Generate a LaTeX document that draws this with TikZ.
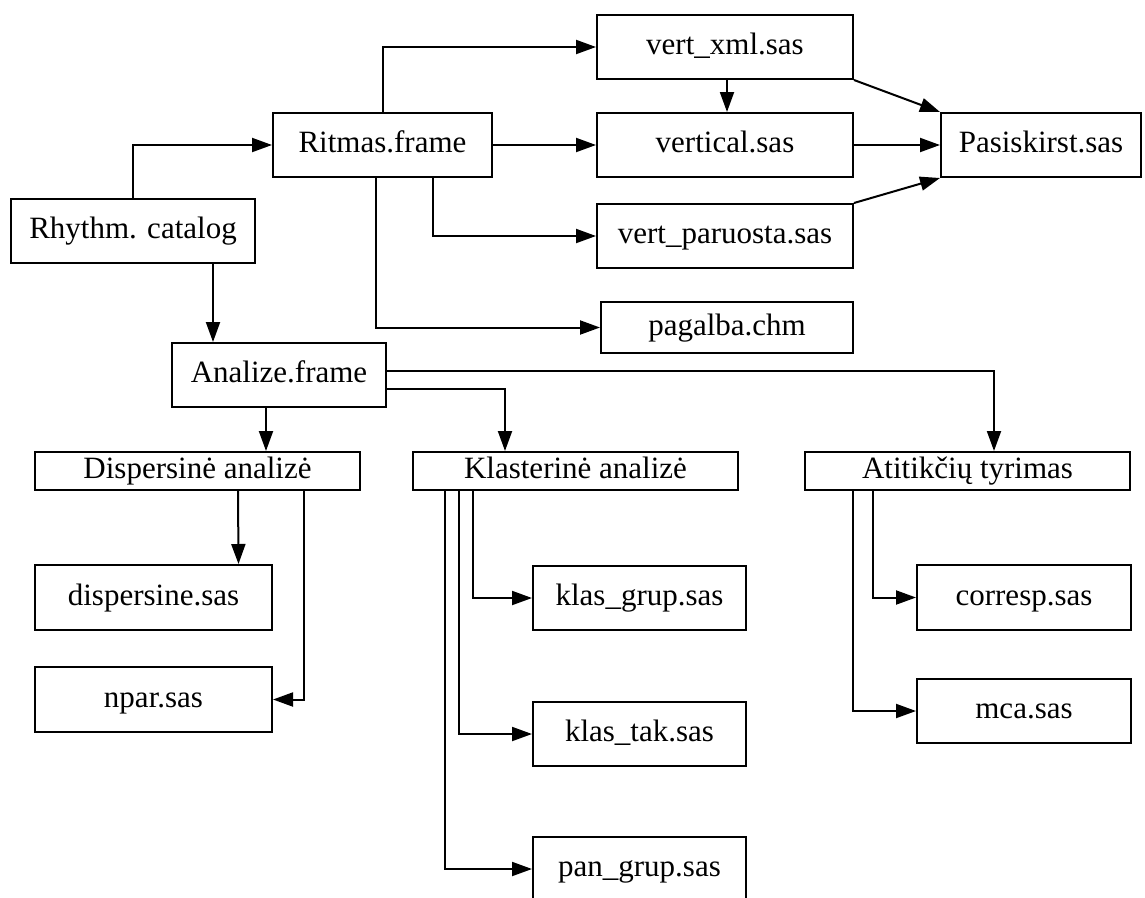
\documentclass[tikz,border=0pt]{standalone}
\usepackage{fontspec}
\setmainfont{Liberation Serif}
\usepackage{tikz}
\usetikzlibrary{arrows.meta, calc, positioning}

\begin{document}
\begin{tikzpicture}[x=1pt, y=-1pt,
                every node/.style={draw, line width=2pt, inner sep=0pt, align=center, minimum height=64pt,
                                   text height=22pt, text depth=7pt, font=\fontsize{31}{37}\selectfont},
                arr/.style={-{Triangle[length=20pt, width=14pt]}, line width=2pt}]
                \useasboundingbox (0,0) rectangle (1145,897);
                % top part
                \node (rhythm)   [minimum width=244pt] at (133,231)     {Rhythm. catalog};
                \node (ritmas)   [minimum width=219pt] at (382.5,145)   {Ritmas.frame};
                \node (vertxml)  [minimum width=256pt] at (725,47)      {vert\_xml.sas};
                \node (vertical) [minimum width=256pt] at (725,145)     {vertical.sas};
                \node (vertpar)  [minimum width=256pt] at (725,236)     {vert\_paruosta.sas};
                \node (pagalba)  [minimum width=252pt, minimum height=51pt] at (727,327.5) {pagalba.chm};
                \node (pasisk)   [minimum width=200pt] at (1041,145)    {Pasiskirst.sas};
                % analysis part
                \node (analize)  [minimum width=214pt] at (279,375)     {Analize.frame};
                \node (disp)     [minimum width=325pt, minimum height=38pt] at (197.5,471) {Dispersinė analizė};
                \node (klast)    [minimum width=325pt, minimum height=38pt] at (575.5,471) {Klasterinė analizė};
                \node (atit)     [minimum width=325pt, minimum height=38pt] at (967.5,471) {Atitikčių tyrimas};
                \node (dispsas)  [minimum width=237pt, minimum height=65pt] at (153.5,597.5) {dispersine.sas};
                \node (npar)     [minimum width=237pt, minimum height=65pt] at (153.5,699.5) {npar.sas};
                \node (klasgrup) [minimum width=213pt] at (639.5,598)   {klas\_grup.sas};
                \node (klastak)  [minimum width=213pt] at (639.5,734)   {klas\_tak.sas};
                \node (pangrup)  [minimum width=213pt] at (639.5,869)   {pan\_grup.sas};
                \node (corresp)  [minimum width=214pt, minimum height=65pt] at (1024,597.5) {corresp.sas};
                \node (mca)      [minimum width=214pt] at (1024,711)    {mca.sas};

                \draw[arr] (rhythm.north) |- (ritmas.west);
                \draw[arr] (ritmas.north) |- (vertxml.west);
                \draw[arr] (ritmas.east) -- (vertical.west);
                \draw[arr] ([xshift=50.5pt]ritmas.south) |- (vertpar.west);
                \draw[arr] ([xshift=-6.5pt]ritmas.south) |- (pagalba.west);
                \draw[arr] ([xshift=2pt]vertxml.south) -- ([xshift=2pt]vertical.north);
                \draw[arr] (vertxml.south east) -- (pasisk.north west);
                \draw[arr] (vertical.east) -- (pasisk.west);
                \draw[arr] (vertpar.north east) -- (pasisk.south west);

                \draw[arr] ([xshift=80pt]rhythm.south) -- ([xshift=-66pt]analize.north);
                \draw[arr] ([xshift=-13pt]analize.south) -- ([xshift=68.5pt]disp.north);
                \draw[arr] ([yshift=-14pt]analize.east) -| ([xshift=-70.5pt]klast.north);
                \draw[arr] ([yshift=4pt]analize.east) -| ([xshift=26.5pt]atit.north);

                \draw[arr] ([xshift=40.5pt]disp.south) -- ([xshift=85pt]dispsas.north);
                \draw[arr] ([xshift=106.5pt]disp.south) |- (npar.east);
                \draw[arr] ([xshift=-102.5pt]klast.south) |- (klasgrup.west);
                \draw[arr] ([xshift=-116.5pt]klast.south) |- (klastak.west);
                \draw[arr] ([xshift=-130.5pt]klast.south) |- (pangrup.west);
                \draw[arr] ([xshift=-94.5pt]atit.south) |- (corresp.west);
                \draw[arr] ([xshift=-114.5pt]atit.south) |- (mca.west);
            \end{tikzpicture}
\end{document}
